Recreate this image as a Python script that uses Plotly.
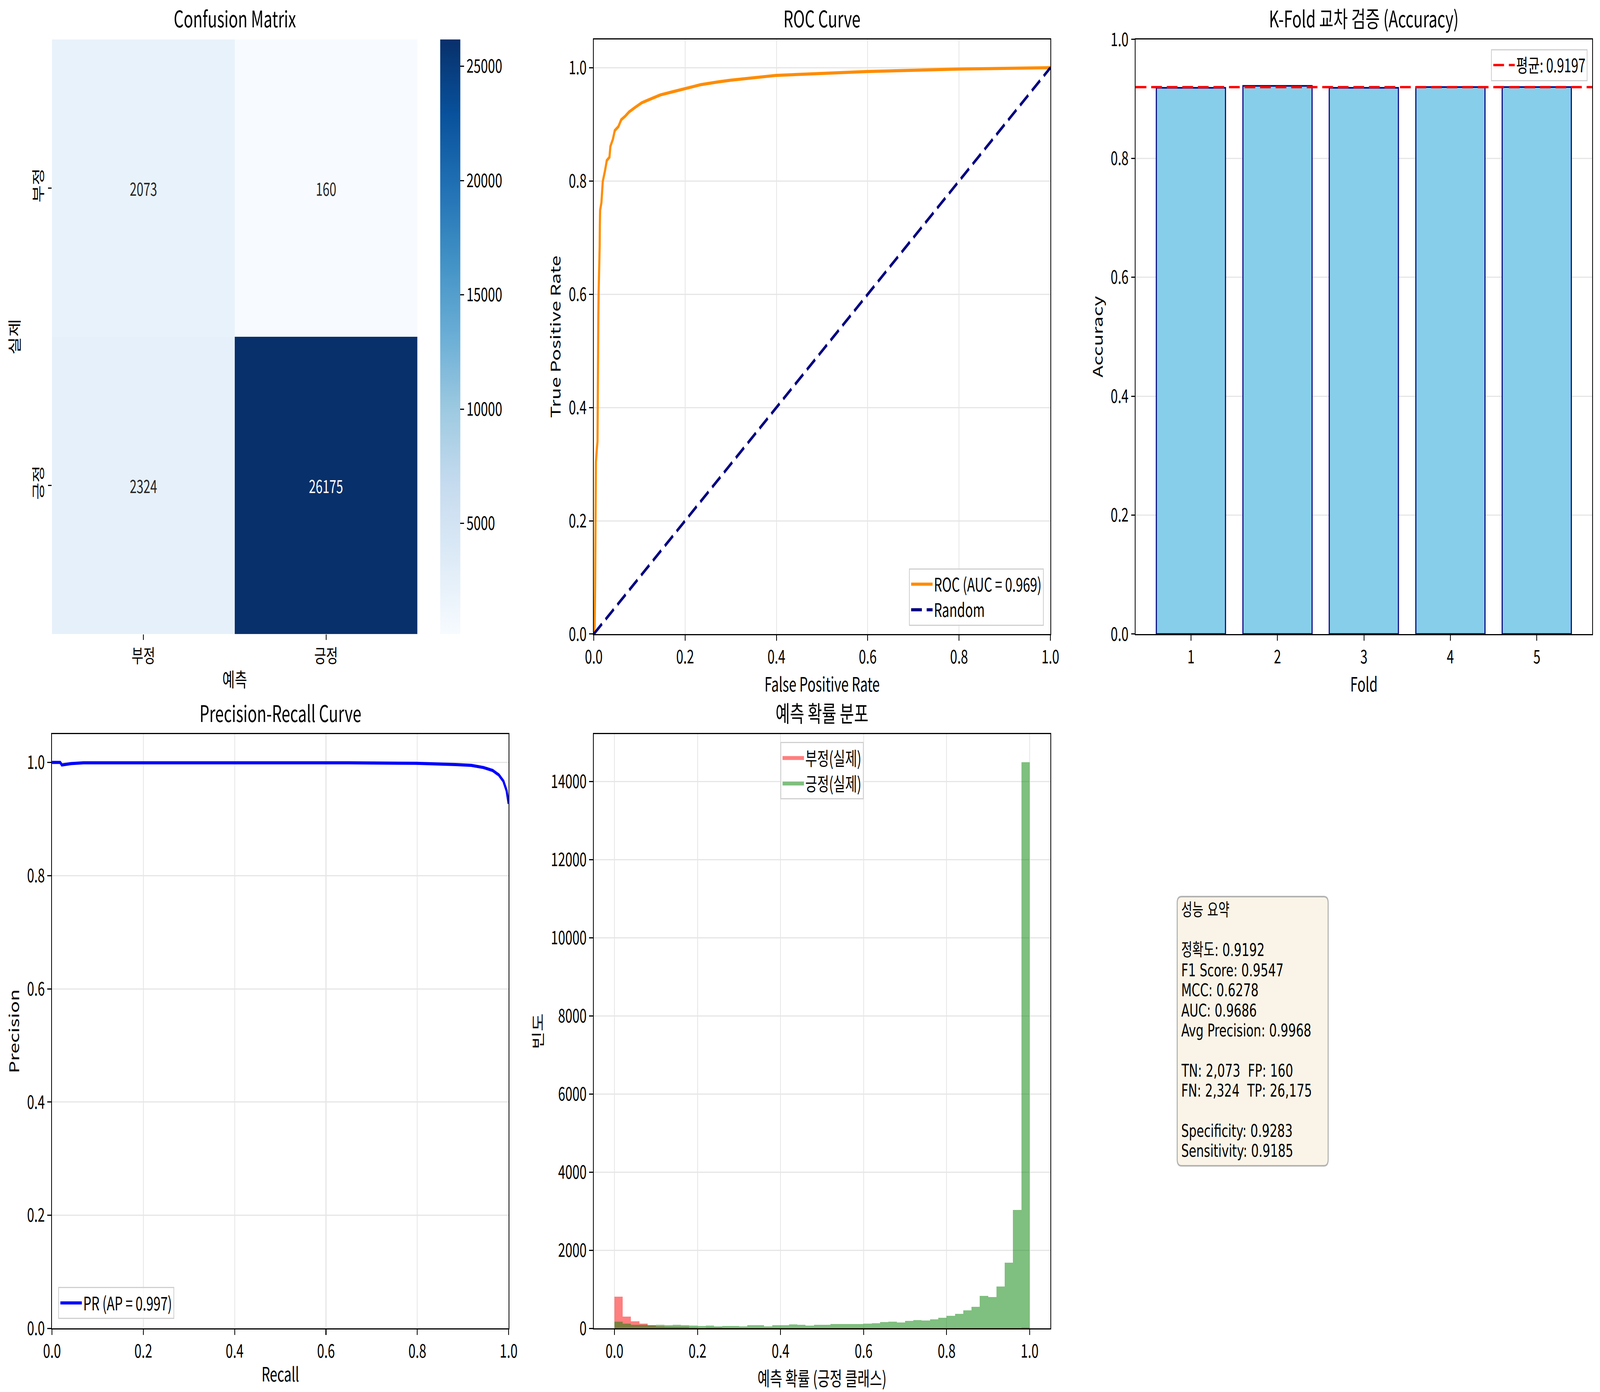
import plotly.graph_objects as go

# ---------------- data ----------------
cm_labels = ["부정", "긍정"]
cm_values = [[2073, 160], [2324, 26175]]

roc_fpr = [0, 0.002, 0.003, 0.004, 0.0047, 0.007, 0.0082, 0.0086, 0.009, 0.010, 0.0106, 0.012,
           0.0129, 0.0133, 0.0139, 0.0168, 0.0184, 0.0197, 0.0246, 0.0285, 0.0344, 0.0364, 0.042,
           0.046, 0.054, 0.060, 0.0696, 0.0774, 0.089, 0.1048, 0.128, 0.146, 0.175, 0.2, 0.234,
           0.273, 0.3, 0.4, 0.5, 0.6, 0.8, 1.0]
roc_tpr = [0, 0.015, 0.086, 0.19, 0.304, 0.329, 0.34, 0.39, 0.515, 0.558, 0.60, 0.642, 0.684,
           0.72, 0.748, 0.762, 0.79, 0.799, 0.818, 0.836, 0.842, 0.861, 0.874, 0.889, 0.896, 0.908,
           0.915, 0.922, 0.929, 0.938, 0.946, 0.952, 0.958, 0.963, 0.970, 0.975, 0.978, 0.9865,
           0.990, 0.9933, 0.9977, 1.0]
random_x = [0, 1]
random_y = [0, 1]
roc_auc = 0.969

fold_ids = [1, 2, 3, 4, 5]
fold_acc = [0.9183, 0.9218, 0.9185, 0.9201, 0.9198]
fold_mean = 0.9197

pr_recall = [0, 0.018, 0.0216, 0.042, 0.069, 0.18, 0.33, 0.65, 0.797, 0.884, 0.918, 0.945,
             0.965, 0.9784, 0.9885, 0.9956, 1.0]
pr_precision = [1.0, 1.0, 0.9955, 0.998, 0.9993, 0.9996, 0.9993, 0.9993, 0.9985, 0.9963, 0.9948,
                0.991, 0.9858, 0.978, 0.967, 0.950, 0.927]
pr_ap = 0.997

hist_bin_centers = [0.01, 0.03, 0.05, 0.07, 0.09, 0.11, 0.13, 0.15, 0.17, 0.19,
                    0.21, 0.23, 0.25, 0.27, 0.29, 0.31, 0.33, 0.35, 0.37, 0.39,
                    0.41, 0.43, 0.45, 0.47, 0.49, 0.51, 0.53, 0.55, 0.57, 0.59,
                    0.61, 0.63, 0.65, 0.67, 0.69, 0.71, 0.73, 0.75, 0.77, 0.79,
                    0.81, 0.83, 0.85, 0.87, 0.89, 0.91, 0.93, 0.95, 0.97, 0.99]
hist_neg = [812, 299, 178, 117, 77, 47, 37, 37, 37, 17, 7, 17, 17, 7, 7, 7, 7, 3, 3, 10,
            6, 6, 5, 5, 5, 5, 5, 4, 4, 4, 4, 4, 4, 4, 4, 4, 4, 5, 5, 5,
            5, 5, 6, 6, 7, 8, 9, 11, 14, 22]
hist_pos = [168, 117, 87, 87, 77, 87, 77, 87, 77, 67, 57, 67, 47, 57, 57, 47, 77, 77, 47, 77,
            78, 99, 88, 67, 88, 88, 110, 110, 110, 110, 120, 127, 159, 170, 148, 191, 208, 198,
            230, 269, 322, 371, 463, 551, 834, 799, 1074, 1678, 3032, 14490]

summary_accuracy = 0.9192
summary_f1 = 0.9547
summary_mcc = 0.6278
summary_auc = 0.9686
summary_ap = 0.9968
summary_specificity = 0.9283
summary_sensitivity = 0.9185

# ---------------- style ----------------
FONT = "Noto Sans CJK KR"
BOXFONT = "DejaVu Sans, Noto Sans CJK KR"
TICK = 48
LABEL = 50
TITLE = 58
LEG = 48
GRID = "#e6e6e6"
W, H = 5968, 3563

top_y = [0.5445, 0.9717]
bot_y = [0.0457, 0.4726]
dom = {
    "cm": ([0.0325, 0.2609], top_y),
    "roc": ([0.3711, 0.6565], top_y),
    "kf": ([0.7098, 0.9951], top_y),
    "pr": ([0.0325, 0.3179], bot_y),
    "hist": ([0.3711, 0.6565], bot_y),
}

fig = go.Figure()

# Confusion matrix heatmap
zmin = min(min(r) for r in cm_values)
zmax = max(max(r) for r in cm_values)
fig.add_trace(go.Heatmap(
    z=cm_values, x=cm_labels, y=cm_labels, colorscale="Blues", zmin=zmin, zmax=zmax,
    xaxis="x", yaxis="y", showscale=True, hoverinfo="skip",
    colorbar=dict(x=0.2751, xanchor="left", y=top_y[1], yanchor="top", len=top_y[1] - top_y[0],
                  lenmode="fraction", thickness=75, outlinewidth=0, xpad=0, ypad=0,
                  ticks="outside", ticklen=14, tickwidth=3, tickcolor="black",
                  tickvals=[5000, 10000, 15000, 20000, 25000], tickformat="d",
                  tickfont=dict(family=FONT, size=TICK, color="black")),
))

# ROC
fig.add_trace(go.Scatter(x=roc_fpr, y=roc_tpr, mode="lines", name=f"ROC (AUC = {roc_auc:.3f})",
                         line=dict(color="darkorange", width=8), xaxis="x2", yaxis="y2",
                         legend="legend"))
fig.add_trace(go.Scatter(x=random_x, y=random_y, mode="lines", name="Random",
                         line=dict(color="navy", width=8, dash="40px,18px"), xaxis="x2", yaxis="y2",
                         legend="legend"))

# K-Fold
fig.add_trace(go.Bar(x=fold_ids, y=fold_acc, width=0.8,
                     marker=dict(color="skyblue", line=dict(color="navy", width=4)),
                     xaxis="x3", yaxis="y3", showlegend=False))

# PR
fig.add_trace(go.Scatter(x=pr_recall, y=pr_precision, mode="lines", name=f"PR (AP = {pr_ap:.3f})",
                         line=dict(color="blue", width=8), xaxis="x4", yaxis="y4", legend="legend3"))

# Histogram
fig.add_trace(go.Bar(x=hist_bin_centers, y=hist_neg, width=0.02, name="부정(실제)",
                     marker=dict(color="red", line=dict(width=0)), opacity=0.5,
                     xaxis="x5", yaxis="y5", showlegend=False))
fig.add_trace(go.Bar(x=hist_bin_centers, y=hist_pos, width=0.02, name="긍정(실제)",
                     marker=dict(color="green", line=dict(width=0)), opacity=0.5,
                     xaxis="x5", yaxis="y5", showlegend=False))
# legend patches for the histogram
fig.add_trace(go.Scatter(x=[None], y=[None], mode="lines", name="부정(실제)",
                         line=dict(color="rgba(255,0,0,0.5)", width=28), xaxis="x5", yaxis="y5",
                         legend="legend4", hoverinfo="skip"))
fig.add_trace(go.Scatter(x=[None], y=[None], mode="lines", name="긍정(실제)",
                         line=dict(color="rgba(0,128,0,0.5)", width=28), xaxis="x5", yaxis="y5",
                         legend="legend4", hoverinfo="skip"))

def ax(domain, anchor, **kw):
    d = dict(domain=domain, anchor=anchor, showline=True, mirror=True, linecolor="black", linewidth=3,
             ticks="outside", ticklen=14, tickwidth=3, tickcolor="black", zeroline=False,
             tickfont=dict(family=FONT, size=TICK, color="black"), showgrid=True, gridcolor=GRID,
             gridwidth=3, automargin=False)
    d.update(kw)
    return d

def t(text):
    return dict(text=text, font=dict(family=FONT, size=LABEL, color="black"), standoff=14)

hist_top = max(hist_pos + hist_neg) * 1.05

legend_common = dict(bgcolor="rgba(255,255,255,0.8)", bordercolor="#d0d0d0", borderwidth=3,
                     font=dict(family=FONT, size=LEG, color="black"), itemwidth=80)

layout = dict(
    width=W, height=H, autosize=False, margin=dict(l=0, r=0, t=0, b=0, autoexpand=False),
    paper_bgcolor="white", plot_bgcolor="white",
    font=dict(family=FONT, color="black"), barmode="overlay", bargap=0,
    xaxis=ax(dom["cm"][0], "y", showline=False, mirror=False, showgrid=False, title=t("예측")),
    yaxis=ax(dom["cm"][1], "x", showline=False, mirror=False, showgrid=False, autorange="reversed",
             tickangle=-90, title=t("실제")),
    xaxis2=ax(dom["roc"][0], "y2", range=[0, 1], dtick=0.2, tickformat=".1f", title=t("False Positive Rate")),
    yaxis2=ax(dom["roc"][1], "x2", range=[0, 1.05], tickvals=[0, 0.2, 0.4, 0.6, 0.8, 1.0], tickformat=".1f",
              title=t("True Positive Rate")),
    xaxis3=ax(dom["kf"][0], "y3", range=[0.36, 5.64], tickvals=fold_ids, showgrid=False, title=t("Fold")),
    yaxis3=ax(dom["kf"][1], "x3", range=[0, 1], dtick=0.2, tickformat=".1f", title=t("Accuracy")),
    xaxis4=ax(dom["pr"][0], "y4", range=[0, 1], dtick=0.2, tickformat=".1f", title=t("Recall")),
    yaxis4=ax(dom["pr"][1], "x4", range=[0, 1.05], tickvals=[0, 0.2, 0.4, 0.6, 0.8, 1.0], tickformat=".1f",
              title=t("Precision")),
    xaxis5=ax(dom["hist"][0], "y5", range=[-0.05, 1.05], tickvals=[0, 0.2, 0.4, 0.6, 0.8, 1.0],
              tickformat=".1f", title=t("예측 확률 (긍정 클래스)")),
    yaxis5=ax(dom["hist"][1], "x5", range=[0, hist_top], dtick=2000, tickformat="d", title=t("빈도")),
    legend=dict(x=0.6524, xanchor="right", y=0.5505, yanchor="bottom", **legend_common),
    legend2=dict(x=0.9923, xanchor="right", y=0.9647, yanchor="top", **legend_common),
    legend3=dict(x=0.0364, xanchor="left", y=0.0524, yanchor="bottom", **legend_common),
    legend4=dict(x=0.5138, xanchor="center", y=0.4669, yanchor="top", **legend_common),
)
fig.update_layout(**layout)

# mean line (K-Fold) as legend-enabled shape
fig.add_shape(type="line", xref="x3 domain", x0=0, x1=1, yref="y3", y0=fold_mean, y1=fold_mean,
              line=dict(color="red", width=6, dash="40px,18px"), showlegend=True,
              name=f"평균: {fold_mean:.4f}", legend="legend2")

# subplot titles
titles = [("cm", "Confusion Matrix"), ("roc", "ROC Curve"), ("kf", "K-Fold 교차 검증 (Accuracy)"),
          ("pr", "Precision-Recall Curve"), ("hist", "예측 확률 분포")]
for key, txt in titles:
    xd, yd = dom[key]
    fig.add_annotation(xref="paper", yref="paper", x=(xd[0] + xd[1]) / 2, y=yd[1], text=txt,
                       showarrow=False, xanchor="center", yanchor="bottom", yshift=12,
                       font=dict(family=FONT, size=TITLE, color="black"))

# heatmap cell labels
for i, row_lab in enumerate(cm_labels):
    for j, col_lab in enumerate(cm_labels):
        v = cm_values[i][j]
        col = "white" if v > (zmin + zmax) / 2 else "#262626"
        fig.add_annotation(xref="x", yref="y", x=col_lab, y=row_lab, text=str(v), showarrow=False,
                           xanchor="center", yanchor="middle",
                           font=dict(family=FONT, size=46, color=col))

# summary box (rounded rectangle + one annotation per text line)
tn, fp = cm_values[0]
fn, tp = cm_values[1]
lines = [
    "성능 요약", "",
    f"정확도: {summary_accuracy:.4f}",
    f"F1 Score: {summary_f1:.4f}",
    f"MCC: {summary_mcc:.4f}",
    f"AUC: {summary_auc:.4f}",
    f"Avg Precision: {summary_ap:.4f}", "",
    f"TN: {tn:,}  FP: {fp:,}",
    f"FN: {fn:,}  TP: {tp:,}", "",
    f"Specificity: {summary_specificity:.4f}",
    f"Sensitivity: {summary_sensitivity:.4f}",
]
bx0, bx1, by0, by1 = 4391 / W, 4954 / W, 1 - 2984 / H, 1 - 2295 / H
rx, ry = 16 / W, 16 / H
box_path = (f"M {bx0+rx},{by1} L {bx1-rx},{by1} Q {bx1},{by1} {bx1},{by1-ry} "
            f"L {bx1},{by0+ry} Q {bx1},{by0} {bx1-rx},{by0} L {bx0+rx},{by0} "
            f"Q {bx0},{by0} {bx0},{by0+ry} L {bx0},{by1-ry} Q {bx0},{by1} {bx0+rx},{by1} Z")
fig.add_shape(type="path", xref="paper", yref="paper", path=box_path,
              fillcolor="#FAF4E8", line=dict(color="#B3B3B3", width=4), layer="above")
first_line_y = 1 - 2329 / H
pitch = 51.4 / H
for i, ln in enumerate(lines):
    if not ln:
        continue
    fig.add_annotation(xref="paper", yref="paper", x=4404 / W, y=first_line_y - i * pitch,
                       xanchor="left", yanchor="middle", text=ln, showarrow=False, align="left",
                       font=dict(family=BOXFONT, size=45, color="black"))

# fit the fixed-size figure into the browser viewport
fit_js = """
var gd = document.getElementById('{plot_id}');
document.documentElement.style.margin = '0';
document.body.style.margin = '0';
document.documentElement.style.overflow = 'hidden';
document.body.style.overflow = 'hidden';
var sx = Math.min(1, window.innerWidth / %d);
var sy = Math.min(1, window.innerHeight / %d);
if (sx < 1 || sy < 1) {
  var wrap = gd.parentElement;
  wrap.style.width = (%d * sx) + 'px';
  wrap.style.height = (%d * sy) + 'px';
  wrap.style.overflow = 'hidden';
  gd.style.transformOrigin = '0 0';
  gd.style.transform = 'scale(' + sx + ',' + sy + ')';
}
""" % (W, H, W, H)

fig.write_html("out.html", post_script=fit_js, config={"displayModeBar": False})
